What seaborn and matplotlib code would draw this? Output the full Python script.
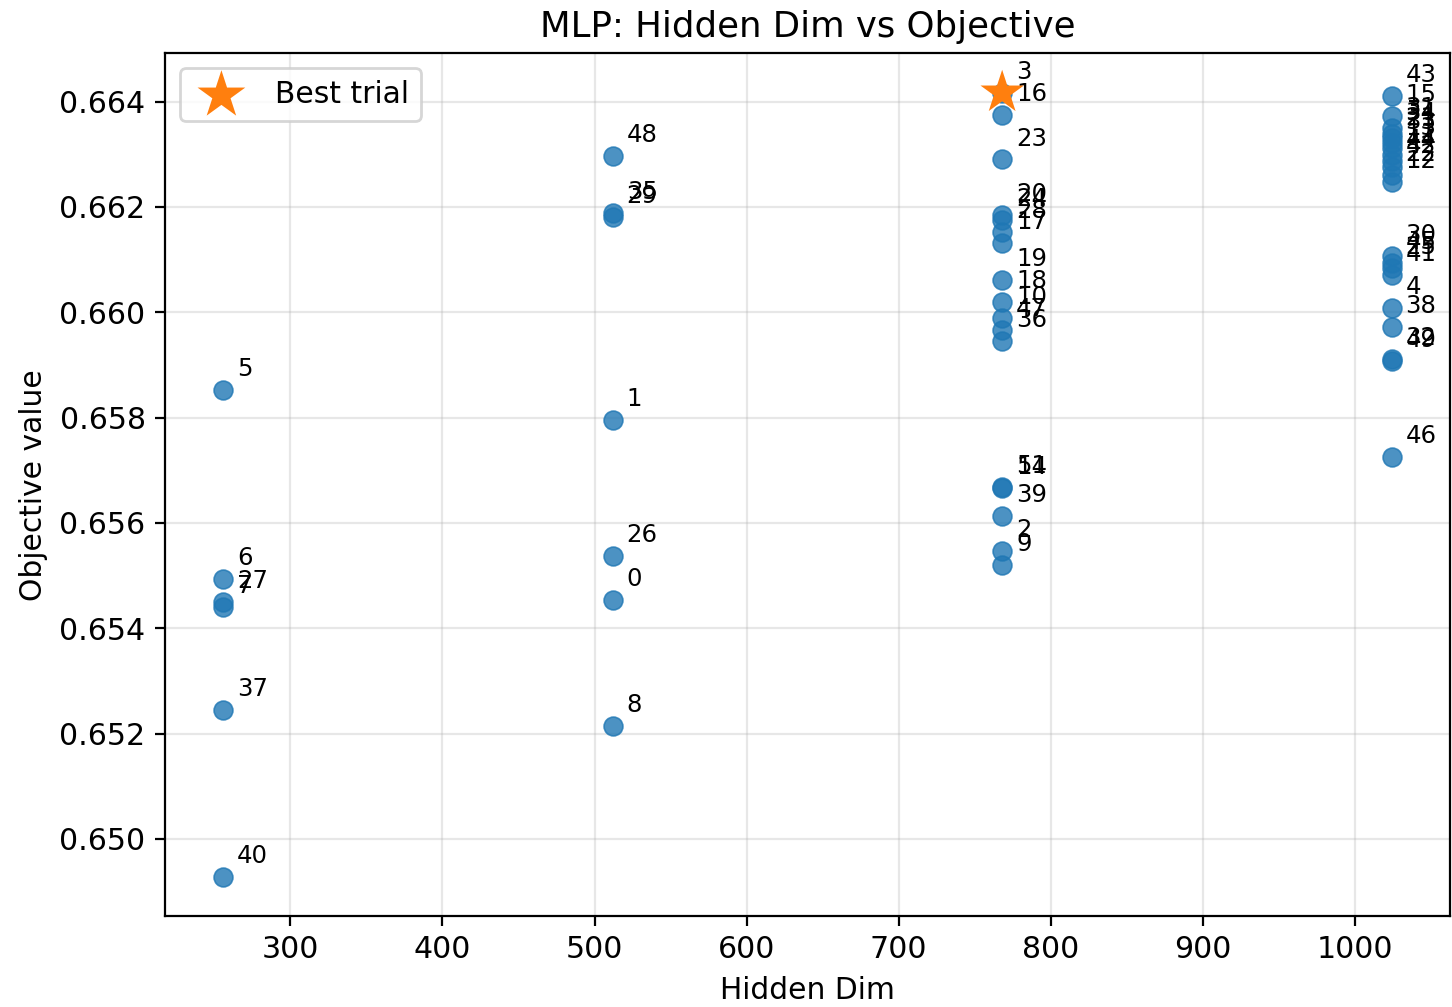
import matplotlib
matplotlib.use("Agg")
import matplotlib.pyplot as plt
import seaborn as sns
import pandas as pd

# Trial results: hidden dimension, objective value and trial number
trial_ids = [40, 37, 7, 27, 6, 5,
             8, 0, 26, 1, 29, 35, 48,
             9, 2, 39, 14, 51, 36, 47, 10, 18, 19, 17, 28, 24, 20, 23, 16, 3,
             46, 49, 32, 38, 4, 41, 25, 45, 30,
             12, 22, 42, 44, 11, 13, 33, 21, 34, 31, 15, 43]
hidden_dims = [256] * 6 + [512] * 7 + [768] * 17 + [1024] * 21
objectives = [0.64928, 0.65244, 0.65441, 0.65450, 0.65494, 0.65853,
              0.65214, 0.65454, 0.65537, 0.65795, 0.66181, 0.66188, 0.66296,
              0.65520, 0.65547, 0.65613, 0.65666, 0.65668, 0.65946, 0.65967,
              0.65989, 0.66020, 0.66061, 0.66131, 0.66152, 0.66175, 0.66184,
              0.66290, 0.66375, 0.66417,
              0.65725, 0.65908, 0.65912, 0.65972, 0.66008, 0.66071, 0.66084,
              0.66094, 0.66107,
              0.66247, 0.66260, 0.66275, 0.66288, 0.66298, 0.66311, 0.66321,
              0.66330, 0.66339, 0.66349, 0.66372, 0.66411]
best_trial = 3

df = pd.DataFrame({"trial": trial_ids, "hidden_dim": hidden_dims,
                   "objective": objectives})
best = df[df["trial"] == best_trial]

fig = plt.figure(figsize=(7.26, 5.035), dpi=200)
ax = fig.add_axes([0.1136, 0.0904, 0.8850, 0.8566])

sns.scatterplot(data=df, x="hidden_dim", y="objective", ax=ax,
                color="#1f77b4", s=46, alpha=0.8, edgecolor="#1f77b4",
                linewidth=0.6, zorder=3)
sns.scatterplot(data=best, x="hidden_dim", y="objective", ax=ax,
                color="#ff7f0e", marker="*", s=270, edgecolor="none",
                label="Best trial", zorder=4)

for _, row in df.iterrows():
    ax.annotate(str(int(row["trial"])), (row["hidden_dim"], row["objective"]),
                textcoords="offset points", xytext=(5, 5), fontsize=8.8)

ax.grid(True, alpha=0.3, zorder=0)
ax.set_axisbelow(True)
ax.set_title("MLP: Hidden Dim vs Objective", fontsize=12.8)
ax.set_xlabel("Hidden Dim", fontsize=10.7)
ax.set_ylabel("Objective value", fontsize=10.7)
ax.set_yticks([0.650, 0.652, 0.654, 0.656, 0.658, 0.660, 0.662, 0.664])
ax.tick_params(labelsize=10.8)
ax.legend(loc="upper left", fontsize=10.7, markerscale=1.1)

fig.savefig("out.png", dpi=200)
